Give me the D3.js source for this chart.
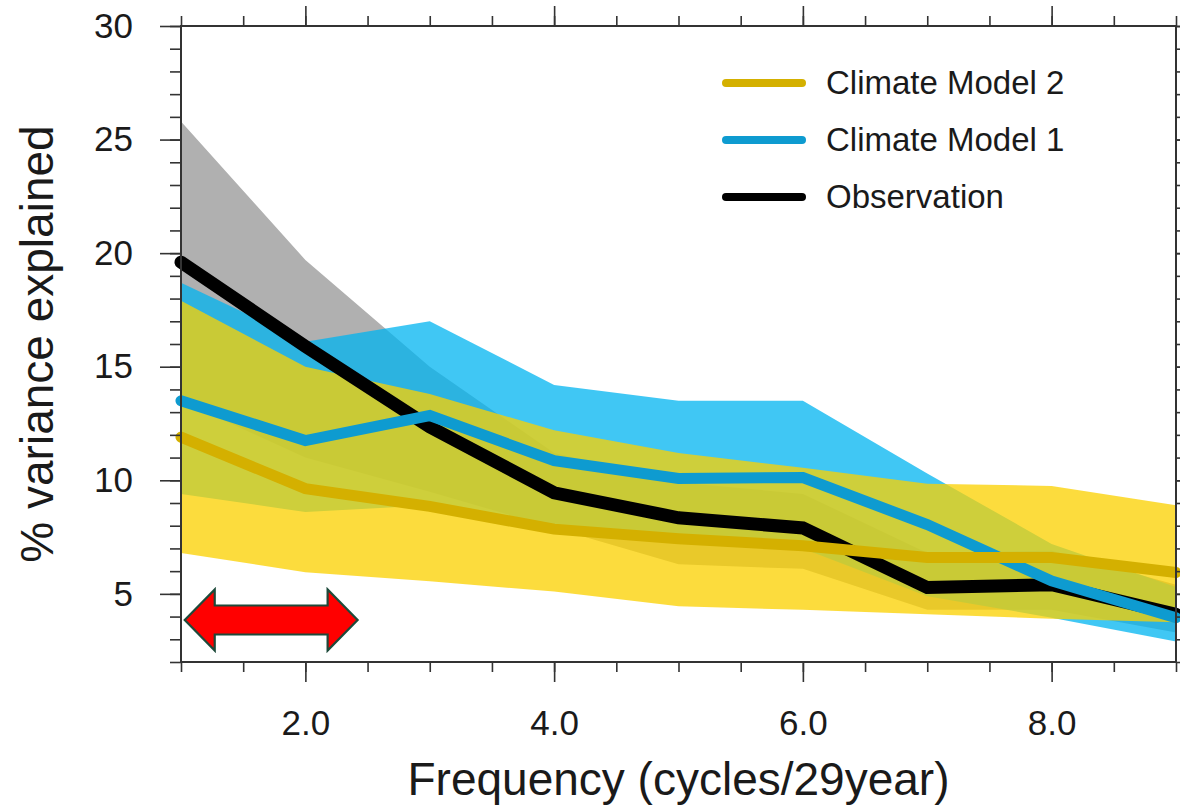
<!DOCTYPE html>
<html>
<head>
<meta charset="utf-8">
<script src="https://cdn.jsdelivr.net/npm/d3@7"></script>
<style>
  html, body { margin: 0; padding: 0; background: #ffffff; }
  svg { display: block; font-family: "Liberation Sans", Arial, Helvetica, sans-serif; }
</style>
</head>
<body>
<svg id="chart" width="1180" height="809"></svg>
<script>
// Frequency (cycles per 29 years)
const freq = [1, 2, 3, 4, 5, 6, 7, 8, 9];

// Central estimates of % variance explained
const observation = [19.6, 15.9, 12.35, 9.45, 8.35, 7.9, 5.28, 5.4, 4.1];
const model1      = [13.5, 11.75, 12.85, 10.86, 10.08, 10.12, 8.05, 5.57, 3.95];
const model2      = [11.9, 9.63, 8.85, 7.85, 7.43, 7.12, 6.6, 6.6, 5.94];

// Spread (lower / upper bounds) for each source
const obsLow  = [13.5, 11.0, 9.5, 7.9, 6.3, 6.1, 4.3, 4.3, 3.3];
const obsHigh = [25.8, 19.7, 15.0, 11.2, 9.9, 9.4, 6.8, 6.9, 5.4];
const m1Low   = [9.4, 8.6, 8.9, 7.9, 7.4, 7.0, 4.9, 3.95, 2.9];
const m1High  = [18.7, 16.1, 17.0, 14.2, 13.5, 13.5, 10.3, 7.2, 5.3];
const m2Low   = [6.8, 5.95, 5.55, 5.1, 4.45, 4.3, 4.1, 3.9, 3.75];
const m2High  = [17.9, 15.0, 13.8, 12.2, 11.2, 10.55, 9.85, 9.75, 8.9];

// Axis ticks
const xMajorTicks = [2, 4, 6, 8];
const xMinorTicks = d3.range(1, 9.001, 0.5);
const yMajorTicks = [5, 10, 15, 20, 25, 30];
const yMinorTicks = d3.range(2, 30.001, 1);

// Highlighted low-frequency range (double arrow)
const arrowRange = [1.03, 2.42];
const arrowLevel = 3.85;

const legendItems = ["Climate Model 2", "Climate Model 1", "Observation"];

const svg = d3.select("#chart");
const plotL = 181, plotR = 1176, plotT = 26, plotB = 662;

const x = d3.scaleLinear().domain([1, 9]).range([plotL, plotR]);
const y = d3.scaleLinear().domain([2, 30]).range([plotB, plotT]);

const textColor = "#1a1a1a";
const colors = {
  obsBand: "#b0b0b0",
  m1Band: "rgb(0,180,240)",
  m2Band: "rgb(251,209,0)",
  obsLine: "#000000",
  m1Line: "#0e9bd0",
  m2Line: "#d4b000"
};

// ---- Shaded spreads ----
const area = (lo, hi) => d3.area()
  .x((d, i) => x(freq[i]))
  .y0((d, i) => y(lo[i]))
  .y1((d, i) => y(hi[i]))(freq);

svg.append("path").attr("d", area(obsLow, obsHigh)).attr("fill", colors.obsBand);
svg.append("path").attr("d", area(m1Low, m1High)).attr("fill", colors.m1Band).attr("fill-opacity", 0.75);
svg.append("path").attr("d", area(m2Low, m2High)).attr("fill", colors.m2Band).attr("fill-opacity", 0.76);

// ---- Lines ----
const line = vals => d3.line()
  .x((d, i) => x(freq[i]))
  .y((d, i) => y(vals[i]))(freq);

function drawLine(vals, color, width) {
  svg.append("path")
    .attr("d", line(vals))
    .attr("fill", "none")
    .attr("stroke", color)
    .attr("stroke-width", width)
    .attr("stroke-linejoin", "miter")
    .attr("stroke-linecap", "round");
}
drawLine(observation, colors.obsLine, 13);
drawLine(model1, colors.m1Line, 11);
drawLine(model2, colors.m2Line, 11);

// ---- Axes (ticks on all four sides, pointing outward) ----
function styleAxis(g) {
  g.select(".domain").remove();
  g.selectAll(".tick line").attr("stroke", "#333").attr("stroke-width", 1.6);
  g.selectAll("text").attr("fill", textColor);
}

svg.append("g").attr("transform", `translate(0,${plotB})`)
  .call(d3.axisBottom(x).tickValues(xMinorTicks).tickSize(10).tickFormat(""))
  .call(styleAxis);
svg.append("g").attr("transform", `translate(0,${plotB})`)
  .call(d3.axisBottom(x).tickValues(xMajorTicks).tickSize(20).tickPadding(28).tickFormat(d3.format(".1f")))
  .call(styleAxis)
  .selectAll("text").attr("font-size", 35);

svg.append("g").attr("transform", `translate(0,${plotT})`)
  .call(d3.axisTop(x).tickValues(xMinorTicks).tickSize(10).tickFormat(""))
  .call(styleAxis);
svg.append("g").attr("transform", `translate(0,${plotT})`)
  .call(d3.axisTop(x).tickValues(xMajorTicks).tickSize(20).tickFormat(""))
  .call(styleAxis);

svg.append("g").attr("transform", `translate(${plotL},0)`)
  .call(d3.axisLeft(y).tickValues(yMinorTicks).tickSize(11).tickFormat(""))
  .call(styleAxis);
svg.append("g").attr("transform", `translate(${plotL},0)`)
  .call(d3.axisLeft(y).tickValues(yMajorTicks).tickSize(21).tickPadding(27).tickFormat(d3.format("d")))
  .call(styleAxis)
  .selectAll("text").attr("font-size", 35);

svg.append("g").attr("transform", `translate(${plotR},0)`)
  .call(d3.axisRight(y).tickValues(yMinorTicks).tickSize(11).tickFormat(""))
  .call(styleAxis);
svg.append("g").attr("transform", `translate(${plotR},0)`)
  .call(d3.axisRight(y).tickValues(yMajorTicks).tickSize(21).tickFormat(""))
  .call(styleAxis);

// Plot frame
svg.append("rect")
  .attr("x", plotL).attr("y", plotT)
  .attr("width", plotR - plotL).attr("height", plotB - plotT)
  .attr("fill", "none").attr("stroke", "#333").attr("stroke-width", 2);

// ---- Axis titles ----
svg.append("text")
  .attr("x", (plotL + plotR) / 2).attr("y", 795)
  .attr("text-anchor", "middle")
  .attr("font-size", 46)
  .attr("fill", textColor)
  .text("Frequency (cycles/29year)");

svg.append("text")
  .attr("transform", "translate(53,344) rotate(-90)")
  .attr("text-anchor", "middle")
  .attr("font-size", 46)
  .attr("fill", textColor)
  .text("% variance explained");

// ---- Legend ----
const legendColors = [colors.m2Line, colors.m1Line, colors.obsLine];
const legend = svg.append("g").attr("transform", "translate(722,83)");
legendItems.forEach((name, i) => {
  const g = legend.append("g").attr("transform", `translate(0,${i * 57})`);
  g.append("line")
    .attr("x1", 4).attr("x2", 80).attr("y1", 0).attr("y2", 0)
    .attr("stroke", legendColors[i]).attr("stroke-width", 8)
    .attr("stroke-linecap", "round");
  g.append("text")
    .attr("x", 104).attr("y", 11)
    .attr("font-size", 33)
    .attr("fill", textColor)
    .text(name);
});

// ---- Double-headed arrow marking the low-frequency range ----
const xl = x(arrowRange[0]), xr = x(arrowRange[1]), yc = y(arrowLevel);
const headLen = 30, headHalf = 30.5, shaftHalf = 14.5;
const arrowPts = [
  [xl, yc], [xl + headLen, yc - headHalf], [xl + headLen, yc - shaftHalf],
  [xr - headLen, yc - shaftHalf], [xr - headLen, yc - headHalf], [xr, yc],
  [xr - headLen, yc + headHalf], [xr - headLen, yc + shaftHalf],
  [xl + headLen, yc + shaftHalf], [xl + headLen, yc + headHalf]
];
svg.append("path")
  .attr("d", d3.line()(arrowPts) + "Z")
  .attr("fill", "#ff0000")
  .attr("stroke", "#1d4a3a")
  .attr("stroke-width", 2.2)
  .attr("stroke-linejoin", "miter");
</script>
</body>
</html>
